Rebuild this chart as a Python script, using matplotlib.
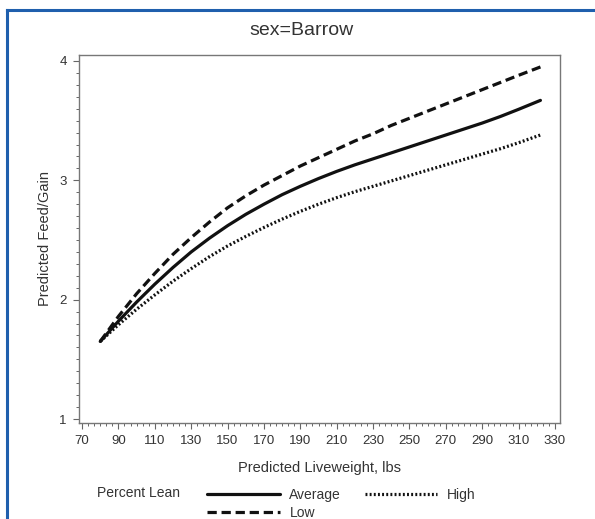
import matplotlib
matplotlib.use("Agg")
import matplotlib.pyplot as plt
from matplotlib.lines import Line2D
from matplotlib.ticker import MultipleLocator

plt.rcParams['font.family'] = ['Liberation Sans', 'DejaVu Sans']

# values
weight = [80, 90, 100, 110, 120, 130, 140, 150, 160, 170, 180, 190, 200,
          210, 220, 230, 240, 250, 260, 270, 280, 290, 300, 310, 322]
fg_average = [1.65, 1.82, 1.98, 2.13, 2.27, 2.40, 2.515, 2.62, 2.715, 2.80, 2.88, 2.95, 3.015,
              3.075, 3.13, 3.18, 3.23, 3.28, 3.33, 3.38, 3.43, 3.48, 3.535, 3.595, 3.67]
fg_low = [1.65, 1.86, 2.05, 2.22, 2.38, 2.52, 2.65, 2.77, 2.87, 2.96, 3.04, 3.12, 3.19,
          3.26, 3.33, 3.39, 3.46, 3.52, 3.58, 3.64, 3.70, 3.76, 3.82, 3.88, 3.95]
fg_high = [1.65, 1.79, 1.92, 2.04, 2.155, 2.26, 2.36, 2.45, 2.53, 2.605, 2.675, 2.74, 2.80,
           2.855, 2.905, 2.95, 2.995, 3.04, 3.085, 3.13, 3.175, 3.22, 3.265, 3.315, 3.38]
xticks = list(range(70, 331, 20))
yticks = [1, 2, 3, 4]

fig = plt.figure(figsize=(5.95, 5.19), dpi=100)
ax = fig.add_axes([0.133, 0.185, 0.808, 0.709])

l_avg, = ax.plot(weight, fg_average, color='#111111', lw=2.3, solid_capstyle='round')
l_low, = ax.plot(weight, fg_low, color='#111111', lw=2.3, dashes=(2.9, 1.5))
l_high, = ax.plot(weight, fg_high, color='#111111', lw=2.3, dashes=(0.6, 0.7))

ax.set_xlim(68.4, 332.7)
ax.set_ylim(0.967, 4.05)
ax.set_xticks(xticks)
ax.set_yticks(yticks)
ax.xaxis.set_minor_locator(MultipleLocator(20 / 6))
ax.yaxis.set_minor_locator(MultipleLocator(0.1))
ax.tick_params(which='major', direction='out', length=4, width=0.8, color='#666666',
               labelsize=9.5, labelcolor='#333333', pad=5)
ax.tick_params(which='minor', direction='out', length=2.5, width=0.7, color='#666666')
for s in ax.spines.values():
    s.set_color('#777777')
    s.set_linewidth(1.0)

ax.set_xlabel('Predicted Liveweight, lbs', fontsize=10.5, color='#333333', labelpad=10)
ax.set_ylabel('Predicted Feed/Gain', fontsize=10.5, color='#333333', labelpad=5)
fig.text(0.507, 0.942, 'sex=Barrow', ha='center', va='center', fontsize=14, color='#333333')

# legend
fig.text(0.163, 0.05, 'Percent Lean', ha='left', va='center', fontsize=10, color='#333333')
leg = fig.legend([l_avg, l_low, l_high], ['Average', 'Low', 'High'], ncol=2,
                 loc='upper left', bbox_to_anchor=(0.337, 0.074), frameon=False,
                 fontsize=10, handlelength=5.2, handletextpad=0.7, columnspacing=1.7,
                 labelspacing=0.3, borderpad=0)
for t in leg.get_texts():
    t.set_color('#333333')

# blue frame of the page
fig.add_artist(Line2D([0.012, 1.0], [0.981, 0.981], color='#1f5fad', lw=2.2,
                      transform=fig.transFigure))
fig.add_artist(Line2D([0.012, 0.012], [0.0, 0.981], color='#1f5fad', lw=2.2,
                      transform=fig.transFigure))

fig.savefig('out.png', dpi=100)
